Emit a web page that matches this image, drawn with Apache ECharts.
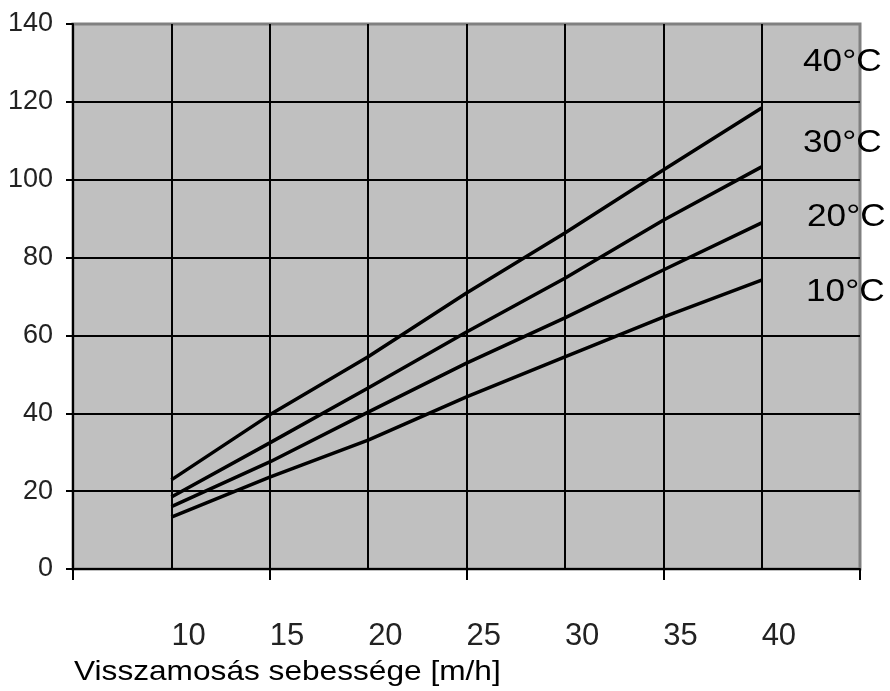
<!DOCTYPE html>
<html>
<head>
<meta charset="utf-8">
<script src="https://cdn.jsdelivr.net/npm/echarts@6/dist/echarts.min.js"></script>
<style>html,body{margin:0;padding:0;background:#fff;}#c{width:890px;height:691px;}</style>
</head>
<body>
<div id="c"></div>
<script>
// Data
var speeds = [10, 15, 20, 25, 30, 35, 40];
var seriesNames = ['40°C', '30°C', '20°C', '10°C'];
var t40 = [22.9, 39.6, 54.5, 70.9, 86.3, 102.5, 118.4];
var t30 = [18.5, 32.4, 46.5, 60.9, 74.7, 89.6, 103.3];
var t20 = [16.0, 27.5, 40.3, 52.9, 64.5, 76.8, 88.9];
var t10 = [13.3, 23.6, 33.1, 44.2, 54.5, 64.7, 74.2];
var xLabels = ['10', '15', '20', '25', '30', '35', '40'];
var xTitle = 'Visszamosás sebessége [m/h]';

function pairs(ys) { return speeds.map(function (x, i) { return [x, ys[i]]; }); }
var allSeries = [t40, t30, t20, t10];

var chart = echarts.init(document.getElementById('c'), null, {renderer: 'canvas'});
var sans = "'Liberation Sans', Arial, sans-serif";

function label(text, x, y, size, sx) {
  return {type: 'text', x: x, y: y, scaleX: sx, style: {text: text, fontSize: size, fontFamily: sans, fill: '#000', verticalAlign: 'middle'}};
}

var option = {
  animation: false,
  backgroundColor: '#fff',
  grid: {
    left: 73, right: 30, top: 24, bottom: 122,
    show: true, backgroundColor: '#c0c0c0', borderColor: '#808080', borderWidth: 3
  },
  xAxis: [{
    type: 'value', min: 5, max: 45, interval: 5,
    axisLine: {show: true, lineStyle: {color: '#000', width: 2}},
    axisTick: {show: false},
    splitLine: {show: true, showMinLine: false, showMaxLine: false, lineStyle: {color: '#000', width: 2}},
    axisLabel: {
      margin: 52, align: 'left', fontSize: 31, lineHeight: 31, color: '#222', fontFamily: sans,
      formatter: function (v) { var s = String(v); return xLabels.indexOf(s) >= 0 ? s : ''; }
    }
  }, {
    type: 'value', min: 5, max: 45, interval: 10, position: 'bottom',
    axisLine: {show: false},
    axisTick: {show: true, length: 11, lineStyle: {color: '#000', width: 2}},
    splitLine: {show: false},
    axisLabel: {show: false}
  }],
  yAxis: {
    type: 'value', min: 0, max: 140, interval: 20,
    axisLine: {show: true, lineStyle: {color: '#000', width: 2}},
    axisTick: {show: true, length: 7, lineStyle: {color: '#000', width: 2}},
    splitLine: {show: true, showMinLine: false, showMaxLine: false, lineStyle: {color: '#000', width: 2}},
    axisLabel: {margin: 20, fontSize: 27, color: '#222', fontFamily: sans}
  },
  series: allSeries.map(function (ys, i) {
    return {
      name: seriesNames[i], type: 'line', data: pairs(ys), xAxisIndex: 0,
      symbol: 'none', smooth: false,
      lineStyle: {color: '#000', width: 3.5}
    };
  }),
  graphic: [
    label(seriesNames[0], 803, 62, 32, 1.1),
    label(seriesNames[1], 803, 143, 32, 1.1),
    label(seriesNames[2], 807, 217, 32, 1.1),
    label(seriesNames[3], 806, 292, 32, 1.1),
    label(xTitle, 74, 672, 28, 1.13)
  ]
};
chart.setOption(option);
</script>
</body>
</html>
